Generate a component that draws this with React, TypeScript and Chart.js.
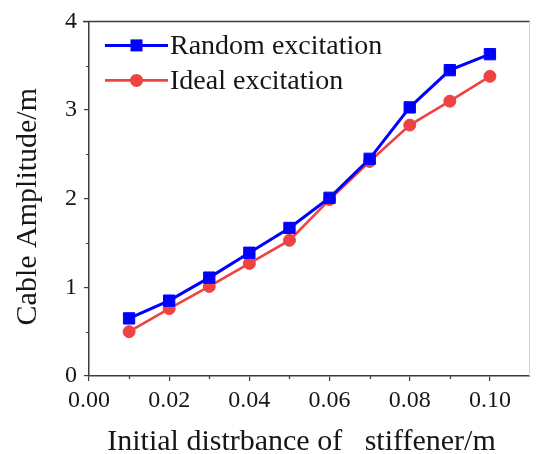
import React, { useEffect, useRef } from 'react';
import { Chart, registerables } from 'chart.js';

Chart.register(...registerables);

// ---- data ----
const xValues = [0.01, 0.02, 0.03, 0.04, 0.05, 0.06, 0.07, 0.08, 0.09, 0.10];
const randomExcitation = [0.65, 0.85, 1.11, 1.39, 1.67, 2.01, 2.45, 3.03, 3.45, 3.63];
const idealExcitation = [0.50, 0.76, 1.01, 1.27, 1.53, 1.99, 2.42, 2.83, 3.10, 3.38];
const seriesLabels = ['Random excitation', 'Ideal excitation'];
const xTitle = 'Initial distrbance of   stiffener/m';
const yTitle = 'Cable Amplitude/m';
const xMinorTicks = [0.01, 0.03, 0.05, 0.07, 0.09];
const yMinorTicks = [0.5, 1.5, 2.5, 3.5];

// ---- styles ----
const FONT = "'Liberation Serif', 'Times New Roman', serif";
const TEXT = '#161616';
const FRAME = '#3c3c3c';
const BLUE = '#0000ff';
const RED = '#ef4343';

const decorPlugin = {
  id: 'decor',
  afterDraw(chart: any) {
    const { ctx, chartArea: ca, scales } = chart;
    const x = scales.x;
    const y = scales.y;
    ctx.save();
    // top frame
    ctx.strokeStyle = FRAME;
    ctx.lineWidth = 1.5;
    ctx.beginPath();
    ctx.moveTo(ca.left - 6, Math.round(ca.top) + 0.5);
    ctx.lineTo(ca.right, Math.round(ca.top) + 0.5);
    ctx.stroke();
    // right frame (light, at image edge)
    ctx.strokeStyle = '#d0d0d0';
    ctx.lineWidth = 1;
    ctx.beginPath();
    ctx.moveTo(ca.right - 0.5, ca.top);
    ctx.lineTo(ca.right - 0.5, ca.bottom);
    ctx.stroke();
    // minor ticks
    ctx.strokeStyle = FRAME;
    ctx.lineWidth = 1.2;
    ctx.beginPath();
    xMinorTicks.forEach((v) => {
      const px = Math.round(x.getPixelForValue(v)) + 0.5;
      ctx.moveTo(px, ca.bottom);
      ctx.lineTo(px, ca.bottom + 3);
    });
    yMinorTicks.forEach((v) => {
      const py = Math.round(y.getPixelForValue(v)) + 0.5;
      ctx.moveTo(ca.left - 3, py);
      ctx.lineTo(ca.left, py);
    });
    ctx.stroke();

    // axis titles
    ctx.fillStyle = TEXT;
    ctx.font = `30px ${FONT}`;
    ctx.textAlign = 'center';
    ctx.textBaseline = 'alphabetic';
    ctx.fillText(xTitle, (ca.left + ca.right) / 2 - 8, chart.height - 4);
    ctx.save();
    ctx.translate(36, (ca.top + ca.bottom) / 2 + 8);
    ctx.rotate(-Math.PI / 2);
    ctx.fillText(yTitle, 0, 0);
    ctx.restore();

    // legend (line + marker + label)
    const rows = chart.data.datasets;
    rows.forEach((ds: any, i: number) => {
      const cy = ca.top + 24 + i * 35;
      const x0 = ca.left + 16;
      const x1 = x0 + 63;
      const cx = (x0 + x1) / 2;
      ctx.strokeStyle = ds.borderColor;
      ctx.lineWidth = ds.borderWidth;
      ctx.beginPath();
      ctx.moveTo(x0, cy);
      ctx.lineTo(x1, cy);
      ctx.stroke();
      ctx.fillStyle = ds.pointBackgroundColor;
      if (ds.pointStyle === 'rect') {
        ctx.fillRect(cx - 6, cy - 6, 12, 12);
      } else {
        ctx.beginPath();
        ctx.arc(cx, cy, 6.5, 0, Math.PI * 2);
        ctx.fill();
      }
      ctx.fillStyle = TEXT;
      ctx.font = `28px ${FONT}`;
      ctx.textAlign = 'left';
      ctx.textBaseline = 'middle';
      ctx.fillText(ds.label, x1 + 2, cy + 1);
    });
    ctx.restore();
  },
};

export default function App() {
  const ref = useRef<HTMLCanvasElement | null>(null);

  useEffect(() => {
    if (!ref.current) return;
    const chart = new Chart(ref.current, {
      type: 'line',
      data: {
        datasets: [
          {
            label: seriesLabels[0],
            data: xValues.map((x, i) => ({ x, y: randomExcitation[i] })),
            borderColor: BLUE,
            backgroundColor: BLUE,
            pointBackgroundColor: BLUE,
            pointBorderColor: BLUE,
            borderWidth: 3,
            pointStyle: 'rect',
            pointRadius: 8,
            pointBorderWidth: 1,
          },
          {
            label: seriesLabels[1],
            data: xValues.map((x, i) => ({ x, y: idealExcitation[i] })),
            borderColor: RED,
            backgroundColor: RED,
            pointBackgroundColor: RED,
            pointBorderColor: RED,
            borderWidth: 2.6,
            pointStyle: 'circle',
            pointRadius: 6,
            pointBorderWidth: 1,
          },
        ],
      },
      options: {
        responsive: false,
        animation: false,
        devicePixelRatio: 1,
        layout: { padding: { top: 19, left: 0, right: 0, bottom: 0 } },
        plugins: {
          legend: { display: false },
          tooltip: { enabled: false },
        },
        scales: {
          x: {
            type: 'linear',
            position: 'bottom',
            min: 0,
            max: 0.11,
            afterFit: (s: any) => {
              s.height = 78;
            },
            ticks: {
              stepSize: 0.02,
              includeBounds: false,
              padding: 5,
              color: TEXT,
              font: { family: FONT, size: 24 },
              maxRotation: 0,
              callback: (v: any) => Number(v).toFixed(2),
            },
            grid: {
              display: true,
              drawOnChartArea: false,
              drawTicks: true,
              tickLength: 5,
              color: FRAME,
              lineWidth: 1.2,
            },
            border: { display: true, color: FRAME, width: 1.5 },
          },
          y: {
            type: 'linear',
            position: 'left',
            min: 0,
            max: 4,
            afterFit: (s: any) => {
              s.width = 89;
            },
            ticks: {
              stepSize: 1,
              padding: 7,
              color: TEXT,
              font: { family: FONT, size: 24 },
            },
            grid: {
              display: true,
              drawOnChartArea: false,
              drawTicks: true,
              tickLength: 5,
              color: FRAME,
              lineWidth: 1.2,
            },
            border: { display: true, color: FRAME, width: 1.5 },
          },
        },
      },
      plugins: [decorPlugin],
    } as any);
    return () => chart.destroy();
  }, []);

  return (
    <div style={{ position: 'absolute', left: 0, top: 0, width: 539, height: 454, background: '#fff' }}>
      <canvas ref={ref} width={539} height={454} style={{ display: 'block' }} />
    </div>
  );
}
